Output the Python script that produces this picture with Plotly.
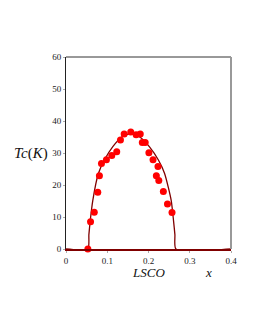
import plotly.graph_objects as go

# measured Tc data (LSCO)
x_data = [0.053, 0.0595, 0.0685, 0.077, 0.081, 0.086, 0.098, 0.111, 0.123, 0.132,
          0.141, 0.157, 0.170, 0.180, 0.185, 0.192, 0.201, 0.211, 0.223, 0.219,
          0.225, 0.236, 0.246, 0.257]
tc_data = [0.0, 8.5, 11.5, 17.7, 22.9, 26.7, 27.9, 29.2, 30.4, 34.1,
           35.9, 36.6, 35.7, 35.9, 33.3, 33.3, 30.1, 27.9, 25.8, 22.9,
           21.4, 18.0, 14.1, 11.4]

# fitted curve
x_curve = [0.0, 0.053, 0.0555, 0.0585, 0.065, 0.0785, 0.093, 0.1135, 0.136, 0.158,
           0.178, 0.202, 0.224, 0.239, 0.255, 0.2607, 0.264, 0.2665, 0.4]
tc_curve = [0.0, 0.0, 4.5, 8.5, 15.2, 23.6, 27.8, 32.0, 35.1, 36.1,
            35.1, 32.0, 27.8, 23.6, 15.2, 8.8, 4.5, 0.0, 0.0]

x_ticks = [0, 0.1, 0.2, 0.3, 0.4]
x_tick_labels = ["0", "0.1", "0.2", "0.3", "0.4"]
y_ticks = [0, 10, 20, 30, 40, 50, 60]

serif = "Liberation Serif, Times New Roman, serif"
dark_red = "#800000"

fig = go.Figure()
fig.add_trace(go.Scatter(x=x_curve, y=tc_curve, mode="lines",
                         line=dict(color=dark_red, width=1.3, shape="spline", smoothing=0.6),
                         cliponaxis=False, showlegend=False, hoverinfo="skip"))
fig.add_trace(go.Scatter(x=x_data, y=tc_data, mode="markers",
                         marker=dict(color="#ff0000", size=7), cliponaxis=False,
                         showlegend=False))

fig.update_layout(
    width=247, height=314, autosize=False,
    margin=dict(l=58, r=24, t=49, b=73),
    plot_bgcolor="white", paper_bgcolor="white",
    font=dict(family=serif, size=9, color="#1a1a1a"),
    xaxis=dict(range=[0, 0.4], tickvals=x_ticks, ticktext=x_tick_labels,
               showgrid=False, zeroline=False, showline=True, linecolor=dark_red,
               linewidth=2, ticks="outside", ticklen=2, tickcolor="#aaaaaa",
               mirror=False, fixedrange=True),
    yaxis=dict(range=[0, 60], tickvals=y_ticks, showgrid=False, zeroline=False,
               showline=True, linecolor="#222222", linewidth=1, ticks="outside",
               ticklen=2, tickcolor="#aaaaaa", fixedrange=True),
    shapes=[
        dict(type="line", xref="paper", yref="paper", x0=0, x1=1, y0=1, y1=1,
             line=dict(color="#333333", width=1)),
        dict(type="line", xref="paper", yref="paper", x0=1, x1=1, y0=0, y1=1,
             line=dict(color="#999999", width=2)),
    ],
    annotations=[
        dict(text="<i>Tc</i>(<i>K</i>)", xref="paper", yref="paper", x=-0.1, y=0.5,
             xanchor="right", yanchor="middle", showarrow=False,
             font=dict(family=serif, size=15, color="#111111")),
        dict(text="<i>LSCO</i>", xref="paper", yref="paper", x=0.50, y=-0.12,
             xanchor="center", yanchor="middle", showarrow=False,
             font=dict(family=serif, size=13, color="#111111")),
        dict(text="<i>x</i>", xref="paper", yref="paper", x=0.865, y=-0.12,
             xanchor="center", yanchor="middle", showarrow=False,
             font=dict(family=serif, size=13, color="#111111")),
    ],
)

fig.write_html("out.html")
